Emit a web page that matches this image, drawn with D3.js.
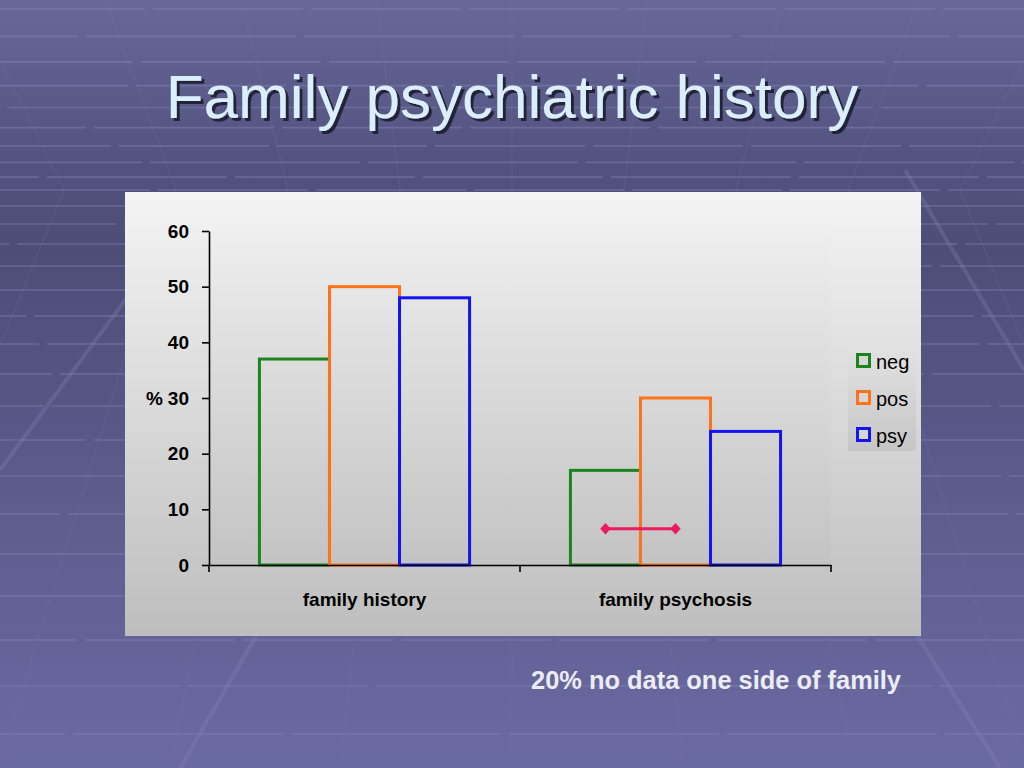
<!DOCTYPE html>
<html>
<head>
<meta charset="utf-8">
<script src="https://cdn.jsdelivr.net/npm/d3@7"></script>
<style>
  html, body { margin: 0; padding: 0; background: #5a5a88; }
  svg { display: block; font-family: 'Liberation Sans', Arial, sans-serif; }
</style>
</head>
<body>
<div id="slide"></div>
<script>
// chart values
const categories = ['family history', 'family psychosis'];
const seriesNames = ['neg', 'pos', 'psy'];
const negValues = [37, 17];
const posValues = [50, 30];
const psyValues = [48, 24];
const yTicks = [0, 10, 20, 30, 40, 50, 60];
// pink bar joining neg and pos in the second group
const noDataLink = {category: 'family psychosis', from: 'neg', to: 'pos', value: 6.5};

const seriesColors = {neg: '#1b841f', pos: '#ff7219', psy: '#1414ee'};

const width = 1024;
const height = 768;

const svg = d3.select('#slide')
  .append('svg')
  .attr('width', width)
  .attr('height', height);

const defs = svg.append('defs');

const bgGrad = defs.append('linearGradient')
  .attr('id', 'bg').attr('x1', 0).attr('y1', 0).attr('x2', 0).attr('y2', 1);
[['0', '#67679a'], ['0.22', '#52527e'], ['0.32', '#4d4d77'], ['0.65', '#5c5c8e'], ['1', '#6a6aa2']]
  .forEach(s => bgGrad.append('stop').attr('offset', s[0]).attr('stop-color', s[1]));

function vGrad(id, top, bottom) {
  const g = defs.append('linearGradient')
    .attr('id', id).attr('x1', 0).attr('y1', 0).attr('x2', 0).attr('y2', 1);
  g.append('stop').attr('offset', 0).attr('stop-color', top);
  g.append('stop').attr('offset', 1).attr('stop-color', bottom);
}
vGrad('panel', '#f4f4f4', '#bebebe');
vGrad('plot', '#eeeeee', '#c3c3c3');
vGrad('legend', '#e3e3e3', '#c6c6c6');

// title shadow
defs.append('filter')
  .attr('id', 'shadow')
  .attr('x', '-5%').attr('y', '-20%').attr('width', '110%').attr('height', '140%')
  .append('feDropShadow')
    .attr('dx', 3).attr('dy', 3).attr('stdDeviation', 0.6)
    .attr('flood-color', '#16162a').attr('flood-opacity', 0.85);

// ---- slide background ----
svg.append('rect')
  .attr('width', width).attr('height', height)
  .attr('fill', 'url(#bg)');

const deco = svg.append('g').attr('class', 'deco');
const horizon = 190;

// floor lines below the horizon, ceiling lines above
const floorY = d3.range(0, 19).map(k => horizon + 15 * k + k * k);
const ceilY = d3.range(1, 10).map(k => horizon - 12 * k - 0.9 * k * k);

deco.selectAll('line.h')
  .data(floorY.concat(ceilY))
  .enter().append('line')
    .attr('class', 'h')
    .attr('x1', 0).attr('x2', width)
    .attr('y1', d => d).attr('y2', d => d)
    .attr('stroke', '#8585b5')
    .attr('stroke-opacity', 0.45)
    .attr('stroke-width', 1.6)
    .attr('stroke-dasharray', (d, i) => `${150 + (i % 3) * 30} 8`)
    .attr('stroke-dashoffset', (d, i) => i * 47);

const colX = d3.range(-6, 7).map(j => 512 + 112 * j);
deco.selectAll('line.vf')
  .data(colX)
  .enter().append('line')
    .attr('x1', d => d).attr('y1', horizon)
    .attr('x2', d => 512 + (d - 512) * 1.53).attr('y2', height)
    .attr('stroke', '#7676a8').attr('stroke-opacity', 0.25).attr('stroke-width', 1.2);
deco.selectAll('line.vc')
  .data(colX)
  .enter().append('line')
    .attr('x1', d => d).attr('y1', horizon)
    .attr('x2', d => 512 + (d - 512) * 1.21).attr('y2', 0)
    .attr('stroke', '#7676a8').attr('stroke-opacity', 0.25).attr('stroke-width', 1.2);

// long lighter diagonals
[[0, 470, 140, 280], [905, 170, 1024, 370], [180, 768, 300, 560], [870, 560, 1000, 768]]
  .forEach(l => deco.append('line')
    .attr('x1', l[0]).attr('y1', l[1]).attr('x2', l[2]).attr('y2', l[3])
    .attr('stroke', '#8a8abb').attr('stroke-opacity', 0.28).attr('stroke-width', 4));

// ---- title ----
svg.append('text')
  .attr('x', 512).attr('y', 118)
  .attr('text-anchor', 'middle')
  .attr('font-size', 62)
  .attr('fill', '#dbeefb')
  .attr('filter', 'url(#shadow)')
  .text('Family psychiatric history');

// ---- chart panel ----
svg.append('rect')
  .attr('x', 125).attr('y', 192)
  .attr('width', 796).attr('height', 444)
  .attr('fill', 'url(#panel)');

const plot = {left: 209, right: 831, top: 231, bottom: 565};

svg.append('rect')
  .attr('x', plot.left).attr('y', plot.top)
  .attr('width', plot.right - plot.left).attr('height', plot.bottom - plot.top)
  .attr('fill', 'url(#plot)');

const x0 = d3.scaleBand()
  .domain(categories)
  .range([plot.left, plot.right])
  .padding(0);

const x1 = d3.scaleBand()
  .domain(seriesNames)
  .range([0, x0.bandwidth()])
  .paddingInner(0)
  .paddingOuter(0.72);

const y = d3.scaleLinear()
  .domain([0, 60])
  .range([plot.bottom, plot.top]);

const table = categories.map((c, i) => ({
  category: c,
  neg: negValues[i],
  pos: posValues[i],
  psy: psyValues[i]
}));

// bars
const groups = svg.append('g')
  .attr('class', 'bars')
  .selectAll('g')
  .data(table)
  .enter().append('g')
    .attr('transform', d => `translate(${x0(d.category)},0)`);

groups.selectAll('rect')
  .data(d => seriesNames.map(s => ({key: s, value: d[s]})))
  .enter().append('rect')
    .attr('x', d => x1(d.key))
    .attr('y', d => y(d.value))
    .attr('width', x1.bandwidth())
    .attr('height', d => y(0) - y(d.value))
    .attr('fill', 'none')
    .attr('stroke', d => seriesColors[d.key])
    .attr('stroke-width', 3);

// axes
const yAxis = svg.append('g')
  .attr('transform', `translate(${plot.left},0)`)
  .call(d3.axisLeft(y).tickValues(yTicks).tickSize(7).tickSizeOuter(0).tickPadding(13));

const xAxis = svg.append('g')
  .attr('transform', `translate(0,${plot.bottom})`)
  .call(d3.axisBottom(x0).tickSize(0).tickSizeOuter(0).tickPadding(28));

[yAxis, xAxis].forEach(a => {
  a.selectAll('path, line').attr('stroke', '#000').attr('stroke-width', 1.6);
  a.selectAll('text')
    .attr('font-family', "'Liberation Sans', Arial, sans-serif")
    .attr('font-size', 19)
    .attr('font-weight', 'bold')
    .attr('fill', '#000');
});

// category boundary ticks on the x axis
const boundaries = [x0.range()[0]].concat(categories.map(c => x0(c) + x0.bandwidth()));
xAxis.selectAll('line.boundary')
  .data(boundaries)
  .enter().append('line')
    .attr('class', 'boundary')
    .attr('x1', d => d).attr('x2', d => d)
    .attr('y1', 0).attr('y2', 7)
    .attr('stroke', '#000').attr('stroke-width', 1.6);

svg.append('text')
  .attr('x', 163).attr('y', y(30))
  .attr('dy', '0.35em')
  .attr('text-anchor', 'end')
  .attr('font-size', 19)
  .attr('font-weight', 'bold')
  .text('%');

// pink link with diamond ends
const linkX = [noDataLink.from, noDataLink.to]
  .map(s => x0(noDataLink.category) + x1(s) + x1.bandwidth() / 2);
const link = svg.append('g').attr('class', 'link');
link.append('line')
  .attr('x1', linkX[0]).attr('x2', linkX[1])
  .attr('y1', y(noDataLink.value)).attr('y2', y(noDataLink.value))
  .attr('stroke', '#ec1a5e').attr('stroke-width', 3);
link.selectAll('path')
  .data(linkX)
  .enter().append('path')
    .attr('d', d3.symbol(d3.symbolDiamond, 60))
    .attr('transform', d => `translate(${d},${y(noDataLink.value)}) scale(1.25,0.8)`)
    .attr('fill', '#ec1a5e');

// legend
const legend = svg.append('g')
  .attr('transform', 'translate(848,342)');
legend.append('rect')
  .attr('width', 68).attr('height', 109)
  .attr('fill', 'url(#legend)');

const item = legend.selectAll('g')
  .data(seriesNames)
  .enter().append('g')
    .attr('transform', (d, i) => `translate(0,${12 + i * 37})`);
item.append('rect')
  .attr('x', 9.5).attr('y', 0.5)
  .attr('width', 12).attr('height', 12)
  .attr('fill', '#d6d6d6')
  .attr('stroke', d => seriesColors[d])
  .attr('stroke-width', 3);
item.append('text')
  .attr('x', 28).attr('y', 14.5)
  .attr('font-size', 20)
  .attr('fill', '#000')
  .text(d => d);

// footnote
svg.append('text')
  .attr('x', 531).attr('y', 689)
  .attr('font-size', 26)
  .attr('font-weight', 'bold')
  .attr('textLength', 370)
  .attr('lengthAdjust', 'spacingAndGlyphs')
  .attr('fill', '#ececf4')
  .text('20% no data one side of family');
</script>
</body>
</html>
